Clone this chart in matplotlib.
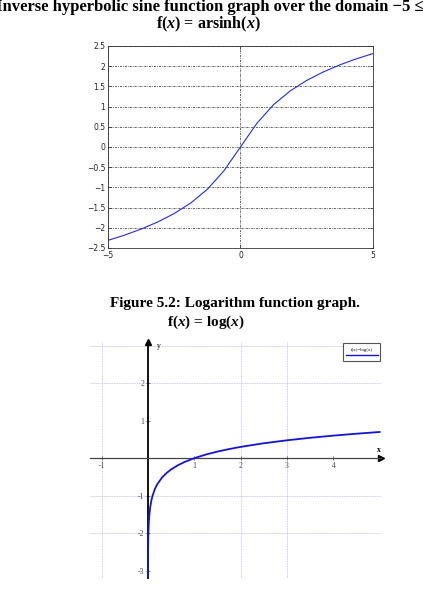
import matplotlib
matplotlib.use("Agg")
import matplotlib.pyplot as plt
from matplotlib.patches import Rectangle

# arsinh curve, sampled as in the picture
asinh_x = [-5, -4.375, -3.75, -3.125, -2.5, -1.875, -1.25, -0.625, 0,
           0.625, 1.25, 1.875, 2.5, 3.125, 3.75, 4.375, 5]
asinh_y = [-2.312, -2.182, -2.032, -1.857, -1.647, -1.386, -1.048, -0.590, 0,
           0.590, 1.048, 1.386, 1.647, 1.857, 2.032, 2.182, 2.312]
asinh_xticks = [-5, 0, 5]
asinh_yticks = [-2.5, -2, -1.5, -1, -0.5, 0, 0.5, 1, 1.5, 2, 2.5]
asinh_ylabels = ["\u22122.5", "\u22122", "\u22121.5", "\u22121", "\u22120.5", "0",
                 "0.5", "1", "1.5", "2", "2.5"]
asinh_xlabels = ["\u22125", "0", "5"]

# log curve
log_x = [0.0007, 0.002, 0.005, 0.01, 0.02, 0.03, 0.05, 0.075, 0.1, 0.15, 0.2,
         0.3, 0.4, 0.5, 0.65, 0.8, 1, 1.25, 1.5, 1.75, 2, 2.5, 3, 3.5, 4, 4.5, 5]
log_y = [-3.155, -2.699, -2.301, -2.0, -1.699, -1.523, -1.301, -1.125, -1.0,
         -0.824, -0.699, -0.523, -0.398, -0.301, -0.187, -0.097, 0, 0.097,
         0.176, 0.243, 0.301, 0.398, 0.477, 0.544, 0.602, 0.653, 0.699]
log_xticks = [-1, 1, 2, 3, 4]
log_yticks = [-3, -2, -1, 1, 2]
log_xgrid = [-1, 2, 3]
log_ygrid = [-2, -1, 2, 3]
legend_label = "f(x)=log(x)"

plt.rcParams["mathtext.fontset"] = "custom"
plt.rcParams["mathtext.it"] = "Liberation Serif:italic:bold"
plt.rcParams["mathtext.rm"] = "Liberation Serif:bold"

fig = plt.figure(figsize=(4.28, 5.98), dpi=100)

serif = ["Liberation Serif", "DejaVu Serif"]
fig.text(-0.009, 0.989, "Inverse hyperbolic sine function graph over the domain \u22125 \u2264 5",
         ha="left", va="center", fontsize=12, fontweight="bold", family=serif)
fig.text(0.487, 0.959, "f($\\mathit{x}$) = arsinh($\\mathit{x}$)",
         ha="center", va="center", fontsize=11.5, fontweight="bold", family=serif)
fig.text(0.257, 0.493, "Figure 5.2: Logarithm function graph.",
         ha="left", va="center", fontsize=11, fontweight="bold", family=serif)
fig.text(0.390, 0.461, "f($\\mathit{x}$) = log($\\mathit{x}$)",
         ha="left", va="center", fontsize=11, fontweight="bold", family=serif)

# --- top chart ---
ax1 = fig.add_axes([0.2523, 0.5853, 0.619, 0.3378])
ax1.plot(asinh_x, asinh_y, color="#2a2ad8", lw=0.8)
ax1.set_xlim(-5, 5)
ax1.set_ylim(-2.5, 2.5)
ax1.set_xticks(asinh_xticks)
ax1.set_xticklabels(asinh_xlabels)
ax1.set_yticks(asinh_yticks)
ax1.set_yticklabels(asinh_ylabels)
ax1.tick_params(direction="in", length=2.5, width=0.5, labelsize=5.5, pad=2,
                top=True, right=True, colors="#222222")
ax1.grid(True, color="#222222", linestyle=(0, (1, 1.5, 3, 1.5)), lw=0.5)
for s in ax1.spines.values():
    s.set_linewidth(0.6)
    s.set_color("#333333")

# --- bottom chart ---
ax2 = fig.add_axes([0.2103, 0.0334, 0.680, 0.3946])
ax2.set_xlim(-1.25, 5.03)
ax2.set_ylim(-3.2, 3.1)
for g in log_xgrid:
    ax2.axvline(g, color="#b8b8e6", lw=0.6, linestyle=(0, (1, 1)), zorder=0)
for g in log_ygrid:
    ax2.axhline(g, color="#b8b8e6", lw=0.6, linestyle=(0, (1, 1)), zorder=0)
ax2.plot(log_x, log_y, color="#1414d4", lw=1.3, zorder=3)

ax2.spines["left"].set_position(("data", 0))
ax2.spines["bottom"].set_position(("data", 0))
ax2.spines["right"].set_color("none")
ax2.spines["top"].set_color("none")
ax2.spines["left"].set_linewidth(1.3)
ax2.spines["bottom"].set_linewidth(0.9)
ax2.spines["bottom"].set_color("#444444")
ax2.plot(0, 1, marker="^", color="black", markersize=4.5,
         transform=ax2.get_xaxis_transform(), clip_on=False)
ax2.plot(1, 0, marker=">", color="black", markersize=4.5,
         transform=ax2.get_yaxis_transform(), clip_on=False)

ax2.set_xticks(log_xticks)
ax2.set_xticklabels([str(t) for t in log_xticks])
ax2.set_yticks(log_yticks)
ax2.set_yticklabels([str(t) for t in log_yticks])
ax2.tick_params(direction="inout", length=3, width=0.5, labelsize=5.5, pad=1,
                colors="#444444")
for lab in ax2.get_xticklabels() + ax2.get_yticklabels():
    lab.set_family(serif)

ax2.text(0.2, 3.0, "y", fontsize=5.5, family=serif, ha="left", va="center")
ax2.text(4.98, 0.12, "x", fontsize=5.5, family=serif, fontweight="bold",
         ha="center", va="bottom")

ax2.add_patch(Rectangle((0.869, 0.919), 0.128, 0.078, transform=ax2.transAxes,
                        facecolor="white", edgecolor="#555555", lw=0.8,
                        clip_on=False, zorder=4))
ax2.text(0.933, 0.968, legend_label, transform=ax2.transAxes, fontsize=3.5,
         family=serif, ha="center", va="center", zorder=5)
ax2.plot([0.878, 0.988], [0.944, 0.944], transform=ax2.transAxes,
         color="#1414d4", lw=1.0, zorder=5, clip_on=False)

fig.savefig("out.png", dpi=100)
